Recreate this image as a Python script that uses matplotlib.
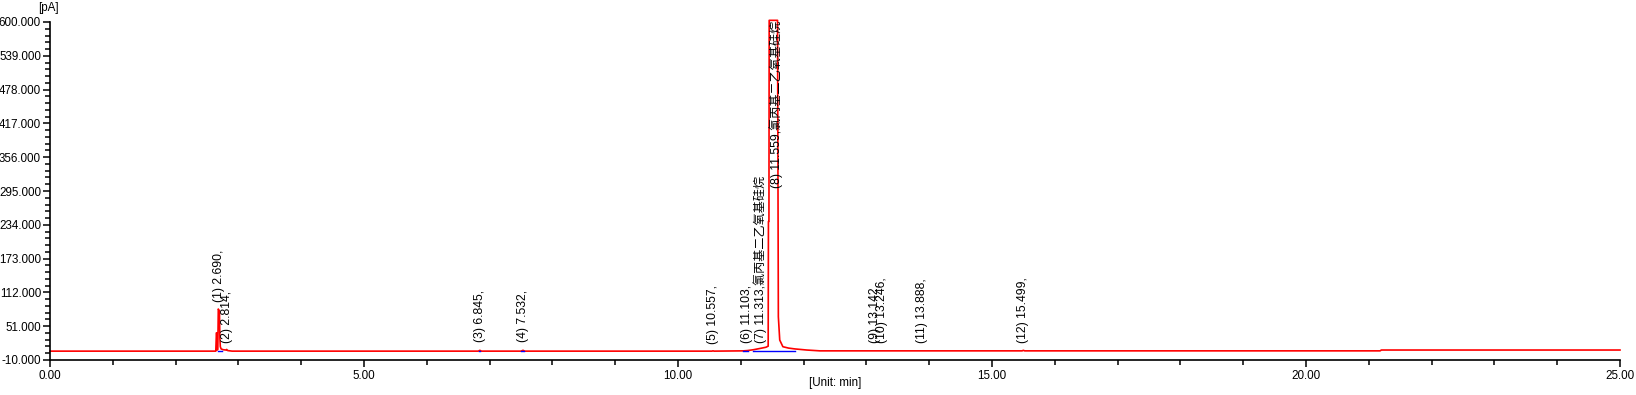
import matplotlib
matplotlib.use("Agg")
import matplotlib.pyplot as plt
from matplotlib.ticker import MultipleLocator, FixedLocator, FormatStrFormatter

plt.rcParams['font.family'] = ['Liberation Sans', 'Noto Sans CJK SC', 'DejaVu Sans']

# Chromatogram trace (time in min, signal in pA)
trace_t = [0.00, 2.640, 2.650, 2.655, 2.662, 2.672, 2.680, 2.698, 2.705, 2.712, 2.725, 2.760,
           2.800, 2.814, 2.830, 2.900, 6.820, 6.845, 6.870, 7.500, 7.532, 7.560,
           10.540, 10.557, 10.575, 11.040, 11.103, 11.200, 11.313, 11.400, 11.436,
           11.440, 11.448, 11.452, 11.585, 11.598, 11.620, 11.670, 11.760, 11.860,
           12.050, 12.260, 13.142, 13.246, 13.888, 15.480, 15.499, 15.520,
           21.180, 21.200, 25.00]
trace_v = [6.0, 6.0, 39.0, 39.0, 8.0, 9.0, 82.0, 78.0, 30.0, 14.0, 10.0, 8.5,
           8.0, 9.0, 7.0, 6.0, 6.0, 7.5, 6.0, 6.0, 7.5, 6.0,
           6.0, 6.5, 6.0, 6.5, 7.0, 8.5, 11.0, 13.0, 15.0,
           240.0, 240.0, 603.0, 603.0, 68.0, 26.0, 14.0, 11.5, 10.0,
           8.0, 6.5, 6.5, 6.5, 6.5, 6.5, 7.5, 6.5,
           6.5, 8.0, 8.0]

# Integration baselines (start, end, level)
base_start = [2.672, 6.835, 7.505, 11.040, 11.200]
base_end = [2.745, 6.855, 7.555, 11.120, 11.860]
base_level = [6.0, 6.0, 6.0, 6.5, 6.5]

# Peak annotations
peak_rt = [2.690, 2.814, 6.845, 7.532, 10.557, 11.103, 11.313, 11.559,
           13.142, 13.246, 13.888, 15.499]
peak_label = ["(1) 2.690,", "(2) 2.814,", "(3) 6.845,", "(4) 7.532,", "(5) 10.557,",
              "(6) 11.103,", "(7) 11.313,氯丙基二乙氧基硅烷", "(8) 11.559,氯丙基二乙氧基硅烷",
              "(9) 13.142,", "(10) 13.246,", "(11) 13.888,", "(12) 15.499,"]
label_y = [95, 21, 22, 22, 19, 21, 21, 300, 21, 21, 21, 21]

y_ticks = [-10, 51, 112, 173, 234, 295, 356, 417, 478, 539, 600]
x_ticks = [0, 5, 10, 15, 20, 25]

fig = plt.figure(figsize=(16.36, 3.95), dpi=100)
ax = fig.add_axes([50/1636, 35/395, 1570/1636, 338/395])

ax.plot(trace_t, trace_v, color='#ff0000', lw=1.2, clip_on=False, zorder=2)
for s, e, l in zip(base_start, base_end, base_level):
    ax.plot([s, e], [l, l], color='#0000ff', lw=1.0, zorder=3)

for rt, lab, ly in zip(peak_rt, peak_label, label_y):
    ax.text(rt, ly, lab, rotation=90, ha='center', va='bottom', fontsize=8.7,
            color='black', zorder=4)

ax.set_xlim(0, 25)
ax.set_ylim(-10, 600)
ax.xaxis.set_major_locator(FixedLocator(x_ticks))
ax.xaxis.set_minor_locator(MultipleLocator(1))
ax.yaxis.set_major_locator(FixedLocator(y_ticks))
ax.yaxis.set_minor_locator(MultipleLocator(12.2, offset=-10))
ax.xaxis.set_major_formatter(FormatStrFormatter('%.2f'))
ax.yaxis.set_major_formatter(FormatStrFormatter('%.3f'))

for side in ['top', 'right']:
    ax.spines[side].set_visible(False)
for side in ['left', 'bottom']:
    ax.spines[side].set_linewidth(1.2)
ax.tick_params(axis='both', which='major', length=5, width=1.1, labelsize=8.4, pad=1.5)
ax.tick_params(axis='both', which='minor', length=3.5, width=1.1)
ax.tick_params(axis='x', which='major', pad=2)

fig.text(48/1636, 1 - 8/395, "[pA]", ha='center', va='center', fontsize=8.4)
fig.text(835/1636, 1 - 383/395, "[Unit: min]", ha='center', va='center', fontsize=8.4)

fig.savefig("out.png", dpi=100)
